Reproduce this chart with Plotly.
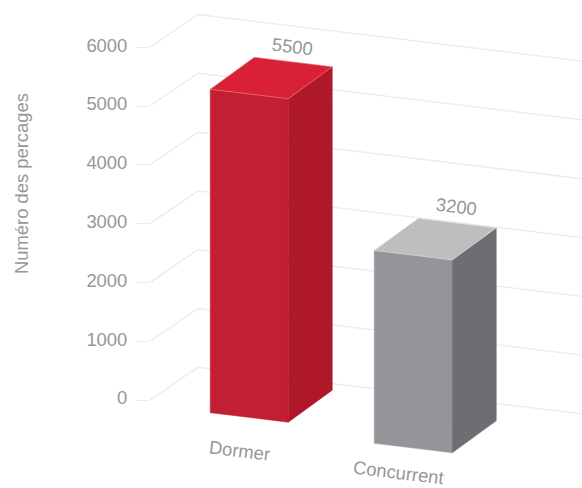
import plotly.graph_objects as go

categories = ["Dormer", "Concurrent"]
bar_heights = [5500, 3280]
value_labels = ["5500", "3200"]
tick_values = [0, 1000, 2000, 3000, 4000, 5000, 6000]
axis_title = "Numéro des percages"

# projection of the oblique view (units: px along x, px per value along y)
PX_PER_UNIT = 0.0588
SLOPE = 0.1215
DEPTH_X, DEPTH_Y = 44.0, -32.0
TOP_PX = 400 / PX_PER_UNIT
BOTTOM_PX = -88 / PX_PER_UNIT


def proj(a, v, d):
    x = a + DEPTH_X * d
    y = v - (SLOPE * a + DEPTH_Y * d) / PX_PER_UNIT
    return x, y


bar_x = [66.6, 243.2]
bar_d = [-0.144, -0.43]
BAR_W = 78.0
colors = [
    dict(front="#c41e32", side="#ae1829", top="#d82037", edge="#e9808f"),
    dict(front="#939598", side="#6d6e71", top="#bcbec0", edge="#d5d6d8"),
]
TEXT = "#96979a"
GRID = "#ebebec"
FONT = "Liberation Sans"
FS = 18.4
ANGLE = 6.9

fig = go.Figure()


def poly(pts, fill, line=None, lw=0.6):
    xs, ys = zip(*pts)
    fig.add_trace(go.Scatter(
        x=list(xs) + [xs[0]], y=list(ys) + [ys[0]], mode="lines", fill="toself",
        fillcolor=fill, line=dict(color=line or fill, width=lw if line else 0.5),
        hoverinfo="skip", showlegend=False,
    ))


# wall and side grid
for v in tick_values:
    pts = [proj(0, v, 0), proj(2.6, v, 1.032), proj(389, v, 1.032)]
    fig.add_trace(go.Scatter(
        x=[p[0] for p in pts], y=[p[1] for p in pts], mode="lines",
        line=dict(color=GRID, width=1.3), hoverinfo="skip", showlegend=False,
    ))

annotations = []
for i, cat in enumerate(categories):
    a0, a1 = bar_x[i], bar_x[i] + BAR_W
    d0, d1 = bar_d[i], bar_d[i] + 1
    h = bar_heights[i]
    c = colors[i]
    poly([proj(a0, 0, d0), proj(a1, 0, d0), proj(a1, h, d0), proj(a0, h, d0)], c["front"])
    poly([proj(a1, 0, d0), proj(a1, 0, d1), proj(a1, h, d1), proj(a1, h, d0)], c["side"])
    poly([proj(a0, h, d0), proj(a1, h, d0), proj(a1, h, d1), proj(a0, h, d1)], c["top"], c["edge"])
    lx, ly = proj((a0 + a1) / 2, h, d1)
    annotations.append(dict(x=lx, y=ly, xshift=-1, yshift=[16, 17][i], text=value_labels[i]))
    cx, cy = proj((a0 + a1) / 2, 0, d0)
    annotations.append(dict(x=cx, y=cy, xshift=[-10, -15][i], yshift=[-33, -24][i], text=cat))

annotations = [
    dict(a, xref="x", yref="y", showarrow=False, textangle=ANGLE,
         font=dict(family=FONT, size=FS, color=TEXT))
    for a in annotations
]
annotations.append(dict(
    x=-129 / 432, y=(88 + 3673 * PX_PER_UNIT) / 488, xref="paper", yref="paper",
    xanchor="center", yanchor="middle",
    text=axis_title, textangle=-90, showarrow=False,
    font=dict(family=FONT, size=FS, color=TEXT),
))

fig.update_layout(
    width=582, height=488, autosize=False,
    margin=dict(l=150, r=0, t=0, b=0),
    paper_bgcolor="white", plot_bgcolor="white",
    showlegend=False,
    annotations=annotations,
    xaxis=dict(range=[0, 432], visible=False, fixedrange=True),
    yaxis=dict(
        range=[BOTTOM_PX, TOP_PX + 0], tickvals=tick_values, ticks="outside", ticklen=13,
        tickcolor=GRID, tickwidth=1.3, showgrid=False, zeroline=False, showline=False,
        ticklabelstandoff=5, ticklabelshift=-2, tickfont=dict(family=FONT, size=FS, color=TEXT),
        fixedrange=True,
    ),
)
fig.write_html("out.html", config=dict(displayModeBar=False),
               post_script="document.body.style.margin='0';document.documentElement.style.overflow='hidden';")
